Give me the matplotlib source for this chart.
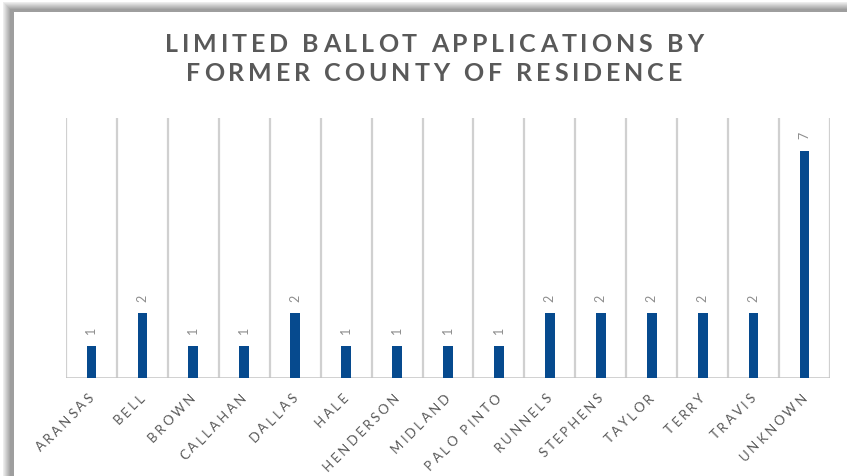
import matplotlib

matplotlib.use("Agg")
import matplotlib.pyplot as plt
from matplotlib.patches import Rectangle
import numpy as np

counties = ["ARANSAS", "BELL", "BROWN", "CALLAHAN", "DALLAS", "HALE", "HENDERSON",
            "MIDLAND", "PALO PINTO", "RUNNELS", "STEPHENS", "TAYLOR", "TERRY",
            "TRAVIS", "UNKNOWN"]
applications = [1, 2, 1, 1, 2, 1, 1, 1, 1, 2, 2, 2, 2, 2, 7]
title_lines = ["LIMITED BALLOT APPLICATIONS BY", "FORMER COUNTY OF RESIDENCE"]

W, H = 847, 476
FONT = "Lato"
fig = plt.figure(figsize=(W / 100, H / 100), dpi=100)
fig.patch.set_facecolor("white")
renderer = fig.canvas.get_renderer()


def px(x0, y0, x1, y1):
    return (x0 / W, 1 - y1 / H, (x1 - x0) / W, (y1 - y0) / H)


def char_widths(s, size, weight):
    def w(txt):
        t = fig.text(0, 0, txt, fontsize=size, fontweight=weight, family=FONT)
        bb = t.get_window_extent(renderer)
        t.remove()
        return bb.width
    base = w("||")
    return [w("|" + ch + "|") - base for ch in s]


def tracked(s, x, y, size, tracking, angle=0, anchor="center", weight="normal",
            color="#595959", widths=None):
    """Draw s letter by letter; (x, y) in screen pixels (y down)."""
    if widths is None:
        widths = char_widths(s, size, weight)
    total = sum(widths) + tracking * (len(s) - 1)
    start = {"left": 0, "center": -total / 2, "right": -total}[anchor]
    a = np.radians(angle)
    pos = start
    for ch, cw in zip(s, widths):
        cx = x + pos * np.cos(a)
        cy = y - pos * np.sin(a)
        fig.text(cx / W, 1 - cy / H, ch, fontsize=size, fontweight=weight,
                 family=FONT, color=color, rotation=angle,
                 rotation_mode="anchor", ha="left", va="baseline")
        pos += cw + tracking


# soft shadow frame at top/left
for i, g in enumerate(np.linspace(0.93, 0.62, 8)):
    l, b, w, h = px(3 + i, 2 + i, W + 20, H + 20)
    fig.patches.append(Rectangle((l, b), w, h, transform=fig.transFigure,
                                 facecolor=str(g), edgecolor="none", zorder=-2))
l, b, w, h = px(14, 12, W + 20, H + 20)
fig.patches.append(Rectangle((l, b), w, h, transform=fig.transFigure,
                             facecolor="white", edgecolor="none", zorder=-1))

AX_L, AX_T, AX_R, AX_B = 66, 118, 830, 378
ax = fig.add_axes(px(AX_L, AX_T, AX_R, AX_B))
ax.set_zorder(2)
ax.set_facecolor("none")
x = np.arange(len(counties))
ax.bar(x, applications, width=0.19, color="#064A8E", zorder=3)
ax.set_xlim(-0.5, len(counties) - 0.5)
ax.set_ylim(0, 8)

for b in np.arange(-0.5, len(counties), 1.0):
    ax.axvline(b, color="#D0D0D0", lw=1.6, zorder=1)
for s in ax.spines.values():
    s.set_visible(False)
ax.axhline(0, color="#C4C4C4", lw=1.8, zorder=2)
ax.set_yticks([])
ax.set_xticks([])

for xi, v in zip(x, applications):
    ax.annotate(str(v), (xi, v), xytext=(0, 8), textcoords="offset points",
                rotation=90, ha="center", va="bottom", fontsize=9,
                color="#8C8C8C", family=FONT)

# rotated, letter-spaced category labels
step = (AX_R - AX_L) / len(counties)
for i, name in enumerate(counties):
    tx = AX_L + (i + 0.5) * step + 3
    tracked(name, tx, AX_B + 21, 9.5, 2.6, angle=45, anchor="right")

# letter-spaced title
tsize = 18
w1 = char_widths(title_lines[0], tsize, "bold")
track = (538 - sum(w1)) / (len(title_lines[0]) - 1)
tracked(title_lines[0], 434, 52, tsize, track, weight="bold", widths=w1)
tracked(title_lines[1], 434, 81, tsize, track, weight="bold")

fig.savefig("out.png", dpi=100)
